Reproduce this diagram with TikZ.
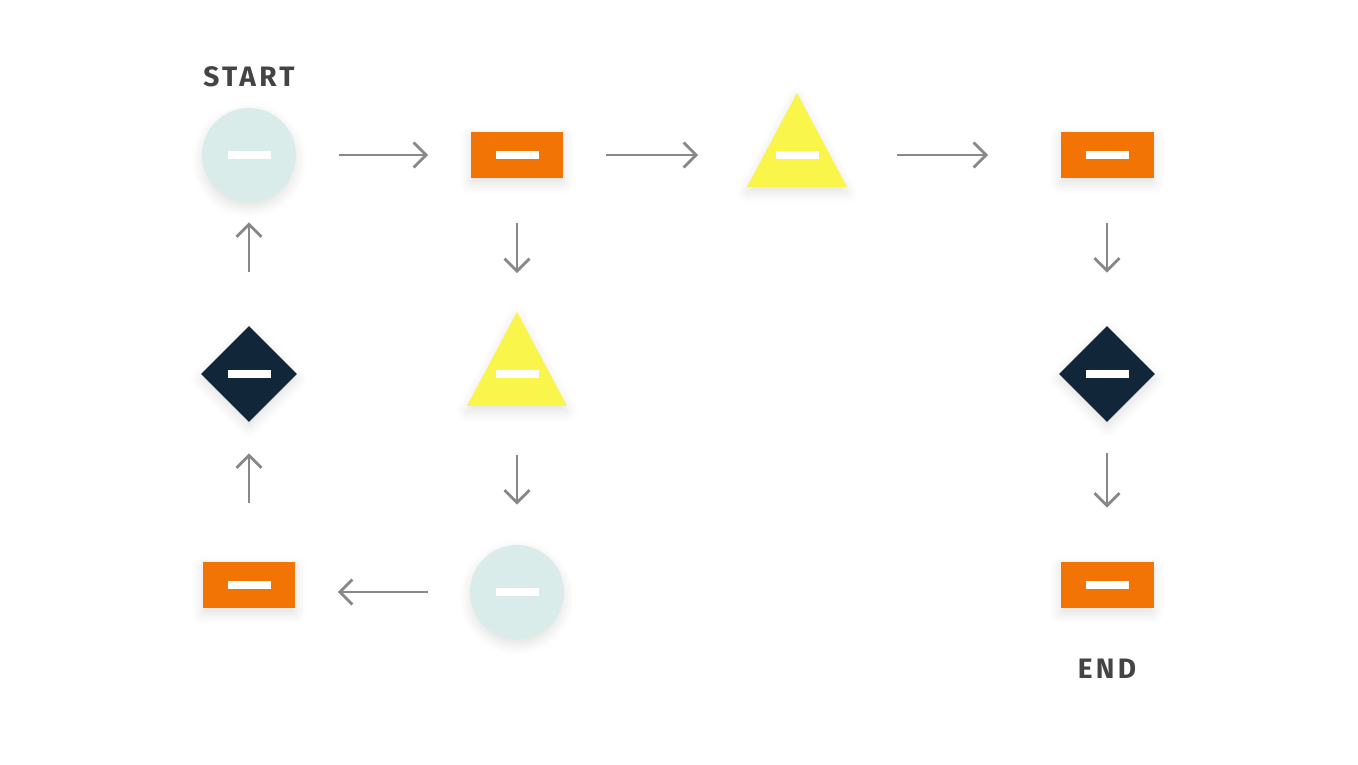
\documentclass[tikz,border=0pt]{standalone}
\usepackage{fontspec}
\newfontfamily\capfont[LetterSpace=12]{Fira Sans}
\usepackage{xcolor}
\usepackage{tikz}
\usetikzlibrary{shapes.geometric,arrows.meta,shadows.blur}

\definecolor{mint}{HTML}{D9ECEA}
\definecolor{tangerine}{HTML}{F27405}
\definecolor{lemon}{HTML}{FAF54B}
\definecolor{navy}{HTML}{12263A}
\definecolor{arrgray}{HTML}{888888}
\definecolor{ink}{HTML}{444444}

\begin{document}
\begin{tikzpicture}[
  x=0.02cm, y=-0.02cm,
  soft/.style={blur shadow={shadow xshift=0pt, shadow yshift=-3pt,
               shadow blur radius=6pt, shadow opacity=12}},
  term/.style={circle, fill=mint, minimum size=1.88cm, inner sep=0, soft},
  proc/.style={rectangle, fill=tangerine, minimum width=1.86cm,
               minimum height=0.92cm, inner sep=0, soft},
  dec/.style={diamond, aspect=1, fill=navy, minimum size=1.92cm,
              inner sep=0, soft},
  tri/.style={isosceles triangle, isosceles triangle stretches,
              shape border rotate=90, fill=lemon, minimum width=2cm,
              minimum height=1.88cm, inner sep=0, anchor=apex, soft},
  bar/.style={fill=white, minimum width=0.86cm, minimum height=0.17cm,
              inner sep=0},
  lbl/.style={font=\capfont\bfseries\fontsize{16}{16}\selectfont, text=ink},
  arr/.style={-{Straight Barb[length=2.5mm, width=5mm, line width=1.6pt]},
              line width=1.6pt, draw=arrgray}]

  \useasboundingbox (0,0) rectangle (1358,764);

  \node[lbl] (start) at (249,77) {START};
  \node[term] (c1) at (249,155) {};
  \node[proc] (r1) at (517,155) {};
  \node[tri] (t1) at (797,92) {};
  \node[proc] (r2) at (1107,155) {};
  \node[dec] (d2) at (1107,374) {};
  \node[proc] (r4) at (1107,585) {};
  \node[lbl] (finish) at (1107,669) {END};
  \node[tri] (t2) at (517,311) {};
  \node[term] (c2) at (517,592) {};
  \node[proc] (r3) at (249,585) {};
  \node[dec] (d1) at (249,374) {};

  % white bars
  \foreach \n in {c1,r1,r2,d2,r4,c2,r3,d1}
    \node[bar] at (\n) {};
  \node[bar] at ([yshift=-1.26cm]t1.apex) {};
  \node[bar] at ([yshift=-1.26cm]t2.apex) {};

  \draw[arr, shorten <=0.86cm, shorten >=0.84cm] (c1) -- (r1);
  \draw[arr, shorten <=0.84cm, shorten >=1.98cm] (r1) -- (t1.lower side |- r1);
  \draw[arr, shorten <=2cm, shorten >=1.44cm] (t1.lower side |- r2) -- (r2);
  \draw[arr, shorten <=0.9cm, shorten >=1.06cm] (r2) -- (d2);
  \draw[arr, shorten <=0.62cm, shorten >=1.08cm] (d2) -- (r4);
  \draw[arr, shorten <=0.9cm, shorten >=0.76cm] (r1) -- (t2.apex);
  \draw[arr, shorten <=0.98cm, shorten >=0.8cm] (t2.lower side) -- (c2);
  \draw[arr, shorten <=0.84cm, shorten >=0.84cm] (c2) -- (r3.east |- c2);
  \draw[arr, shorten <=1.18cm, shorten >=0.62cm] (r3) -- (d1);
  \draw[arr, shorten <=1.08cm, shorten >=0.4cm] (d1) -- (c1);
\end{tikzpicture}
\end{document}
